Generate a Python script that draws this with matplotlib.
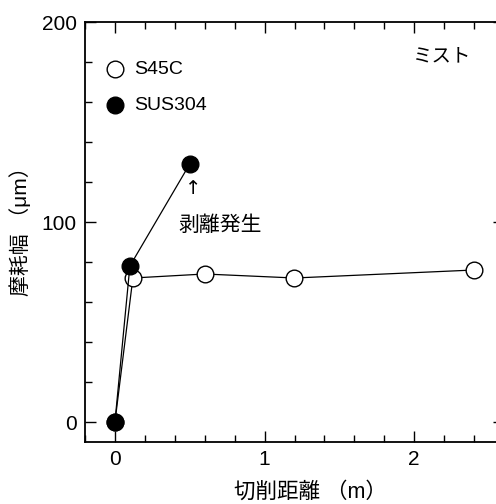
import matplotlib
matplotlib.use("Agg")
import matplotlib.pyplot as plt
from matplotlib.ticker import MultipleLocator

plt.rcParams['font.family'] = ['Liberation Sans', 'Noto Sans CJK JP', 'DejaVu Sans']

# S45C (open circles)
x_s45c = [0.0, 0.12, 0.6, 1.2, 2.4]
y_s45c = [0.0, 72.0, 74.0, 72.0, 76.0]
# SUS304 (filled circles)
x_sus = [0.0, 0.1, 0.5]
y_sus = [0.0, 78.0, 129.0]

W, H = 496, 504
fig = plt.figure(figsize=(W/100, H/100), dpi=100)
ax = fig.add_axes([85/W, (H-442)/H, (504-85)/W, 420/H])

ax.plot(x_s45c, y_s45c, color="black", linewidth=0.9, marker="o", markersize=12,
        markerfacecolor="white", markeredgecolor="black", markeredgewidth=1.0, zorder=3)
ax.plot(x_sus, y_sus, color="black", linewidth=0.9, marker="o", markersize=12,
        markerfacecolor="black", markeredgecolor="black", zorder=4)

ax.set_xlim(-0.2, 2.6)
ax.set_ylim(-10, 200)
ax.set_xticks([0, 1, 2])
ax.set_yticks([0, 100, 200])
ax.xaxis.set_minor_locator(MultipleLocator(0.2))
ax.yaxis.set_minor_locator(MultipleLocator(20))
ax.tick_params(which="both", direction="in", top=True, right=True, labelsize=15, pad=6)
ax.tick_params(which="major", length=8, width=1.0)
ax.tick_params(which="minor", length=5, width=1.0)
for s in ax.spines.values():
    s.set_linewidth(1.3)

# axis titles placed in figure pixels
fig.text(310/W, 1 - 492/H, "切削距離 （m）", fontsize=15.5, ha="center", va="center")
fig.text(20/W, 1 - 226/H, "摩耗幅 （μm）", fontsize=15, ha="center", va="center",
         rotation=90)

# legend drawn as markers + text
ax.plot([0.0], [176.5], marker="o", markersize=12, markerfacecolor="white",
        markeredgecolor="black", linestyle="none")
ax.plot([0.0], [158.5], marker="o", markersize=12, markerfacecolor="black",
        markeredgecolor="black", linestyle="none")
ax.text(0.13, 176.5, "S45C", fontsize=14, va="center", ha="left")
ax.text(0.13, 158.5, "SUS304", fontsize=14, va="center", ha="left")

ax.text(2.19, 182.5, "ミスト", fontsize=14, va="center", ha="center")
ax.text(0.52, 117, "↑", fontsize=14, va="center", ha="center", family=['DejaVu Sans'])
ax.text(0.70, 98.5, "剥離発生", fontsize=15, va="center", ha="center")

fig.savefig("out.png", dpi=100)
